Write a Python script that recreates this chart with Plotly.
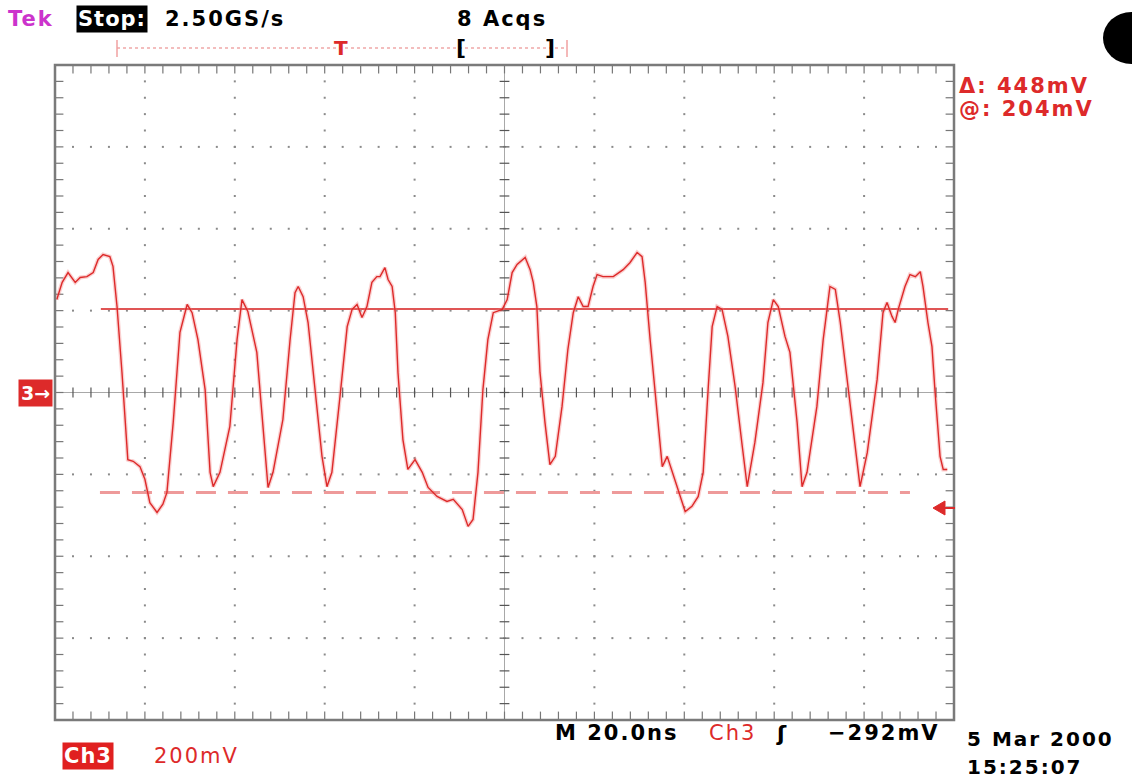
import plotly.graph_objects as go
import numpy as np

# ---------------- data ----------------
time_ns = [0.4, 1.6, 2.9, 4.5, 5.6, 7.1, 8.5, 9.6, 10.7, 12.2, 12.9, 13.8, 14.9, 15.8, 16.2,
           17.4, 18.9, 20.0, 21.1, 22.7, 24.0, 24.9, 26.3, 27.8, 29.4, 30.5, 31.8, 33.4, 34.5,
           35.2, 36.7, 38.9, 40.5, 41.6, 42.9, 44.9, 46.3, 47.4, 48.5, 50.7, 52.3, 53.4, 54.1,
           55.2, 56.3, 57.9, 59.4, 60.5, 61.6, 63.4, 65.0, 66.1, 67.2, 68.3, 69.4, 70.5, 71.6,
           72.3, 73.4, 74.1, 75.0, 75.7, 76.3, 77.4, 78.5, 80.1, 81.7, 83.0, 85.0, 87.2, 88.6,
           90.6, 91.9, 93.0, 94.1, 95.2, 96.3, 97.5, 99.5, 100.6, 101.7, 102.8, 104.6, 105.7,
           106.4, 107.2, 107.9, 109.0, 110.1, 111.3, 112.8, 114.1, 115.3, 116.4, 117.5, 118.6,
           119.7, 120.6, 121.9, 124.2, 126.4, 127.9, 129.5, 130.6, 131.3, 132.4, 133.9, 135.1,
           136.2, 137.3, 138.4, 140.2, 141.7, 143.1, 144.2, 145.3, 146.2, 147.3, 148.4, 149.7,
           151.3, 152.9, 154.0, 155.7, 157.5, 158.6, 159.8, 160.9, 162.4, 163.5, 165.1, 166.2,
           167.3, 169.5, 170.9, 172.4, 173.6, 174.7, 176.9, 179.1, 180.7, 182.9, 184.2, 185.1,
           186.2, 186.9, 187.6, 189.1, 190.2, 191.4, 192.5, 193.1, 194.2, 195.1, 195.8, 196.9,
           197.6, 198.5]
ch3_mV = [227, 269, 293, 269, 281, 283, 293, 325, 337, 332, 308, 210, 49, -115, -164,
          -168, -181, -212, -269, -293, -273, -244, -73, 147, 215, 195, 129, 7, -195,
          -230, -195, -83, 129, 227, 198, 98, -83, -232, -195, -66, 129, 244, 259,
          234, 171, 7, -156, -230, -195, -10, 161, 203, 215, 183, 210, 269, 283,
          283, 305, 276, 259, 195, 49, -115, -188, -164, -195, -232, -254, -266, -261,
          -286, -327, -310, -195, 7, 129, 195, 203, 227, 293, 313, 330, 300,
          269, 210, 49, -73, -176, -156, -34, 105, 195, 234, 210, 210,
          259, 288, 283, 283, 300, 317, 342, 332, 269, 129, -34, -181,
          -156, -195, -230, -291, -278, -254, -195, 7, 161, 210, 203, 137,
          15, -132, -230, -122, 24, 171, 227, 210, 137, 98, -73, -230,
          -195, -34, 129, 259, 252, 171, -34, -230, -147, 32, 195, 220,
          186, 171, 203, 259, 288, 283, 295, 259, 171, 112, 0, -156,
          -188, -188]

cursor_at_mV = 204          # "@: 204mV"
cursor_delta_mV = 448       # "Δ: 448mV"
cursor_hi_span_ns = [10.2, 198.7]
cursor_lo_span_ns = [10.0, 190.2]

x_div_ns = 20.0   # M 20.0ns
y_div_mV = 200.0  # Ch3 200mV
n_xdiv, n_ydiv, n_minor = 10, 8, 5

# ---------------- geometry ----------------
W, H = 1132, 781
L, R, T, B = 55, 954, 65, 720
x_max = n_xdiv * x_div_ns
y_half = n_ydiv / 2 * y_div_mV


def px(x):
    return (x - L) / (R - L)


def py(y):
    return (B - y) / (B - T)


FONT = "DejaVu Sans"
RED = "#dd2a2a"
GRID = "#8a8a8a"

fig = go.Figure()

# ---------------- graticule ----------------
xmaj = np.arange(0, x_max + 1e-9, x_div_ns)
ymaj = np.arange(-y_half, y_half + 1e-9, y_div_mV)
xmin_ = np.arange(0, x_max + 1e-9, x_div_ns / n_minor)
ymin_ = np.arange(-y_half, y_half + 1e-9, y_div_mV / n_minor)
xc, yc = x_max / 2, 0.0

dx, dy = [], []
for xm in xmaj[1:-1]:
    if abs(xm - xc) < 1e-9:
        continue
    for ym in ymin_[1:-1]:
        dx.append(xm); dy.append(ym)
for ym in ymaj[1:-1]:
    if abs(ym - yc) < 1e-9:
        continue
    for xm in xmin_[1:-1]:
        dx.append(xm); dy.append(ym)
fig.add_trace(go.Scatter(x=dx, y=dy, mode="markers", hoverinfo="skip",
                         marker=dict(symbol="square", size=2, color=GRID, line=dict(width=0))))

# center crosshair
fig.add_trace(go.Scatter(x=[0, x_max], y=[yc, yc], mode="lines", hoverinfo="skip",
                         line=dict(color="#a8a8a8", width=1)))
fig.add_trace(go.Scatter(x=[xc, xc], y=[-y_half, y_half], mode="lines", hoverinfo="skip",
                         line=dict(color="#a8a8a8", width=1)))
fig.add_trace(go.Scatter(x=list(xmin_), y=[yc] * len(xmin_), mode="markers", hoverinfo="skip",
                         marker=dict(symbol="line-ns", size=7, line=dict(width=1.2, color="#555"))))
fig.add_trace(go.Scatter(x=[xc] * len(ymin_), y=list(ymin_), mode="markers", hoverinfo="skip",
                         marker=dict(symbol="line-ew", size=7, line=dict(width=1.2, color="#555"))))
# edge ticks
for yy in (-y_half, y_half):
    fig.add_trace(go.Scatter(x=list(xmin_), y=[yy] * len(xmin_), mode="markers", hoverinfo="skip",
                             marker=dict(symbol="line-ns", size=12, line=dict(width=1.2, color="#777"))))
for xx in (0, x_max):
    fig.add_trace(go.Scatter(x=[xx] * len(ymin_), y=list(ymin_), mode="markers", hoverinfo="skip",
                             marker=dict(symbol="line-ew", size=12, line=dict(width=1.2, color="#777"))))

# ---------------- cursors ----------------
c_hi = cursor_at_mV
c_lo = cursor_at_mV - cursor_delta_mV
fig.add_trace(go.Scatter(x=cursor_hi_span_ns, y=[c_hi, c_hi], mode="lines", hoverinfo="skip",
                         line=dict(color="#e05555", width=2)))
fig.add_trace(go.Scatter(x=cursor_lo_span_ns, y=[c_lo, c_lo], mode="lines", hoverinfo="skip",
                         line=dict(color="#ee9a9a", width=3, dash="20px,12px")))

# ---------------- waveform ----------------
fig.add_trace(go.Scatter(x=time_ns, y=ch3_mV, mode="lines", hoverinfo="skip",
                         line=dict(color="rgba(240,120,120,0.35)", width=4)))
fig.add_trace(go.Scatter(x=time_ns, y=ch3_mV, mode="lines", hoverinfo="skip",
                         line=dict(color=RED, width=1.4)))

# ---------------- border ----------------
fig.add_shape(type="rect", xref="paper", yref="paper", x0=0, x1=1, y0=0, y1=1,
              line=dict(color="#7a7a7a", width=2.5), layer="above")


# ---------------- texts ----------------
def sp(s, ls=2):
    return f'<span style="letter-spacing:{ls}px">{s}</span>'


def txt(x, y, s, color="black", size=21, anchor="left", bg=None, pad=1, weight="bold"):
    fig.add_annotation(x=px(x), y=py(y), xref="paper", yref="paper", text=s, showarrow=False,
                       xanchor=anchor, yanchor="middle", bgcolor=bg, borderpad=pad,
                       font=dict(family=FONT, size=size, color=color, weight=weight))


txt(6, 19, sp("Tek", 2), color="#cc33cc")
txt(76, 19, sp("Stop:", 1), color="white", bg="black", pad=1)
txt(163, 19, sp("2.50GS/s", 2))
txt(455, 19, sp("8 Acqs", 2))

# record-length bar
fig.add_shape(type="line", xref="paper", yref="paper", x0=px(117), x1=px(567), y0=py(48), y1=py(48),
              line=dict(color="#f0a8a8", width=1.5, dash="dot"))
for xb in (117, 567):
    fig.add_shape(type="line", xref="paper", yref="paper", x0=px(xb), x1=px(xb), y0=py(40), y1=py(57),
                  line=dict(color="#f0a0a0", width=1.5))
txt(341, 48, "T", color=RED, size=20, anchor="center")
txt(461, 48, "[", size=22, anchor="center")
txt(550, 48, "]", size=22, anchor="center")

# black disc top right
fig.add_shape(type="circle", xref="paper", yref="paper", x0=px(1103), x1=px(1160), y0=py(12),
              y1=py(64), fillcolor="black", line=dict(width=0))

# measurement readout
txt(957, 86, sp(f"Δ: {cursor_delta_mV}mV", 2), color=RED)
txt(957, 109, sp(f"@: {cursor_at_mV}mV", 2), color=RED)

# ground marker
txt(18, 393, "3→", color="white", bg=RED, size=19, pad=2)

# trigger level arrow on right
fig.add_shape(type="path", xref="paper", yref="paper",
              path=f"M {px(933)},{py(508)} L {px(945)},{py(501)} L {px(945)},{py(515)} Z",
              fillcolor=RED, line=dict(color=RED, width=1))
fig.add_shape(type="line", xref="paper", yref="paper", x0=px(944), x1=px(955), y0=py(508), y1=py(508),
              line=dict(color=RED, width=2))

# bottom readouts
txt(553, 733, sp("M 20.0ns", 2))
txt(707, 733, sp("Ch3", 2), color=RED, weight="normal")
txt(774, 733, "ʃ", size=22)
txt(826, 733, sp("−292mV", 2))
txt(965, 739, sp("5 Mar 2000", 2), size=20)
txt(965, 767, sp("15:25:07", 2), size=20)
txt(62, 756, sp("Ch3", 1), color="white", bg="#e02020", pad=1)
txt(152, 756, sp("200mV", 2), color=RED, weight="normal")

fig.update_layout(
    width=W, height=H,
    margin=dict(l=L, r=W - R, t=T, b=H - B, pad=0),
    paper_bgcolor="white", plot_bgcolor="white",
    showlegend=False,
    xaxis=dict(range=[0, x_max], showgrid=False, zeroline=False, showticklabels=False,
               ticks="", showline=False, fixedrange=True),
    yaxis=dict(range=[-y_half, y_half], showgrid=False, zeroline=False, showticklabels=False,
               ticks="", showline=False, fixedrange=True),
)

fig.write_html("out.html")
